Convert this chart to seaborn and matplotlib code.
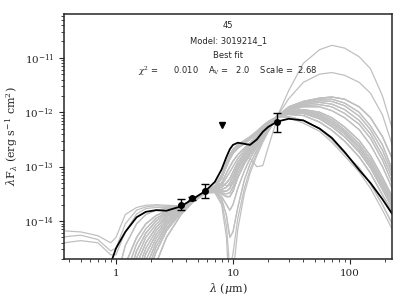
import pandas as pd
import seaborn as sns
import matplotlib
matplotlib.use('Agg')
import matplotlib.pyplot as plt

sns.set_style('ticks')
plt.rcParams['font.family'] = ['DejaVu Serif']
plt.rcParams['mathtext.fontset'] = 'dejavuserif'

wav = [0.36, 0.5, 0.7, 0.9, 1.0, 1.2, 1.5, 1.8, 2.2, 2.7, 3.6, 4.5, 5.8,
       7.0, 8.0, 8.8, 9.4, 10.0, 11.0, 12.5, 14.0, 16.0, 18.0, 20.0, 24.0,
       30.0, 40.0, 55.0, 70.0, 90.0, 120.0, 150.0, 190.0, 230.0]

# best fit model, log10(lambda F_lambda)
best_logf = [-16, -16, -16, -14.78, -14.5, -14.2, -13.93, -13.83, -13.8, -13.81, -13.73, -13.6, -13.45,
             -13.28, -13.05, -12.82, -12.68, -12.6, -12.56, -12.58, -12.6, -12.5, -12.36, -12.27, -12.17,
             -12.12, -12.15, -12.3, -12.47, -12.73, -13.06, -13.3, -13.6, -13.87]

# other good fits: short (0.36-5.8), mid (7-24) and long (30-230) pieces
grey_short = [
    [-14.18, -14.2, -14.27, -14.4, -14.3, -13.88, -13.75, -13.71, -13.7, -13.71, -13.72, -13.6, -13.44],
    [-14.29, -14.26, -14.34, -14.55, -14.5, -14.05, -13.8, -13.74, -13.72, -13.73, -13.73, -13.6, -13.45],
    [-14.4, -14.36, -14.4, -14.62, -14.62, -14.2, -13.87, -13.77, -13.75, -13.75, -13.74, -13.61, -13.45],
    [-16, -16, -16, -16, -15.1, -14.45, -14.05, -13.88, -13.8, -13.77, -13.74, -13.61, -13.45],
    [-16, -16, -16, -16, -15.6, -14.8, -14.3, -14.05, -13.9, -13.81, -13.75, -13.62, -13.46],
    [-16, -16, -16, -16, -16, -15.2, -14.55, -14.22, -14.0, -13.86, -13.76, -13.62, -13.46],
    [-16, -16, -16, -16, -16, -15.6, -14.8, -14.4, -14.12, -13.92, -13.77, -13.63, -13.47],
    [-16, -16, -16, -16, -16, -16, -15.1, -14.6, -14.25, -14.0, -13.79, -13.63, -13.47],
    [-16, -16, -16, -16, -16, -16, -15.4, -14.85, -14.4, -14.08, -13.81, -13.64, -13.48],
    [-16, -16, -16, -16, -16, -16, -15.8, -15.1, -14.57, -14.18, -13.84, -13.65, -13.48],
    [-16, -16, -16, -16, -16, -16, -16, -15.4, -14.78, -14.3, -13.88, -13.66, -13.49],
    [-16, -16, -16, -16, -15.8, -15.0, -14.42, -14.14, -13.95, -13.84, -13.75, -13.62, -13.46],
    [-16, -16, -16, -16, -16, -15.4, -14.68, -14.3, -14.06, -13.89, -13.77, -13.63, -13.47],
    [-16, -16, -16, -16, -16, -16, -14.95, -14.5, -14.18, -13.96, -13.78, -13.63, -13.47],
    [-16, -16, -16, -16, -16, -16, -15.25, -14.72, -14.32, -14.04, -13.8, -13.64, -13.48],
    [-16, -16, -16, -16, -16, -16, -15.6, -14.98, -14.48, -14.13, -13.83, -13.65, -13.48],
]
grey_mid = [
    [-13.35, -13.15, -12.92, -12.78, -12.68, -12.6, -12.52, -12.45, -12.35, -12.25, -12.17, -12.08],
    [-13.38, -13.22, -13.0, -12.86, -12.76, -12.66, -12.58, -12.5, -12.4, -12.3, -12.2, -12.08],
    [-13.4, -13.3, -13.12, -13.0, -12.9, -12.78, -12.66, -12.56, -12.44, -12.33, -12.22, -12.07],
    [-13.42, -13.38, -13.3, -13.22, -13.1, -12.92, -12.75, -12.62, -12.48, -12.35, -12.24, -12.07],
    [-13.43, -13.45, -13.45, -13.4, -13.28, -13.05, -12.85, -12.7, -12.54, -12.4, -12.27, -12.07],
    [-13.45, -13.5, -13.55, -13.55, -13.45, -13.2, -12.95, -12.78, -12.6, -12.44, -12.3, -12.07],
    [-13.45, -13.6, -13.9, -14.3, -14.2, -13.75, -13.25, -12.95, -12.7, -12.5, -12.33, -12.07],
    [-13.47, -13.65, -14.1, -14.9, -14.6, -13.95, -13.4, -13.05, -12.76, -12.53, -12.35, -12.07],
    [-13.48, -13.7, -14.3, -15.5, -15.0, -14.15, -13.5, -13.12, -12.8, -12.55, -12.36, -12.07],
    [-13.36, -13.3, -13.35, -13.35, -13.25, -13.0, -12.82, -12.85, -13.0, -12.98, -12.65, -12.1],
    [-13.44, -13.42, -13.38, -13.3, -13.18, -12.98, -12.8, -12.66, -12.5, -12.37, -12.25, -12.07],
    [-13.37, -13.18, -12.96, -12.82, -12.72, -12.63, -12.55, -12.48, -12.38, -12.28, -12.19, -12.08],
    [-13.41, -13.34, -13.2, -13.1, -13.0, -12.85, -12.7, -12.59, -12.46, -12.34, -12.23, -12.07],
    [-13.44, -13.48, -13.5, -13.48, -13.37, -13.12, -12.9, -12.74, -12.57, -12.42, -12.28, -12.07],
    [-13.46, -13.55, -13.7, -13.8, -13.7, -13.4, -13.08, -12.85, -12.64, -12.47, -12.32, -12.07],
]
grey_long = [
    [-11.6, -11.1, -10.85, -10.77, -10.82, -10.98, -11.2, -11.7, -12.3],
    [-11.75, -11.45, -11.3, -11.27, -11.32, -11.45, -11.65, -12.05, -12.6],
    [-11.9, -11.8, -11.74, -11.72, -11.76, -11.9, -12.1, -12.45, -12.85],
    [-11.92, -11.82, -11.76, -11.76, -11.83, -12.0, -12.25, -12.6, -13.05],
    [-11.95, -11.86, -11.82, -11.85, -11.95, -12.15, -12.4, -12.8, -13.2],
    [-11.97, -11.9, -11.9, -11.97, -12.1, -12.32, -12.6, -13.0, -13.4],
    [-11.98, -11.95, -12.0, -12.1, -12.27, -12.52, -12.8, -13.2, -13.55],
    [-12.0, -11.98, -12.06, -12.18, -12.36, -12.63, -12.92, -13.32, -13.65],
    [-12.02, -12.02, -12.12, -12.26, -12.45, -12.73, -13.02, -13.42, -13.75],
    [-12.04, -12.06, -12.18, -12.33, -12.53, -12.82, -13.12, -13.52, -13.82],
    [-12.1, -12.2, -12.35, -12.55, -12.8, -13.1, -13.4, -13.8, -14.15],
    [-12.08, -12.15, -12.3, -12.5, -12.75, -13.02, -13.32, -13.7, -14.05],
    [-11.96, -11.88, -11.86, -11.9, -12.02, -12.22, -12.48, -12.88, -13.3],
    [-11.99, -11.96, -12.03, -12.14, -12.32, -12.58, -12.86, -13.26, -13.6],
    [-12.01, -12.0, -12.09, -12.22, -12.4, -12.68, -12.97, -13.37, -13.7],
    [-11.93, -11.84, -11.79, -11.8, -11.88, -12.07, -12.32, -12.7, -13.12],
]
# which pieces make up each grey model
short_idx = [0, 1, 2, 3, 4, 5, 6, 7, 8, 9, 10, 3, 5, 7, 4, 6, 8, 10, 9, 5, 7, 4, 8, 6, 9, 10,
             11, 12, 13, 14, 15, 11, 12, 13, 14, 15]
mid_idx = [0, 1, 3, 2, 4, 5, 1, 10, 6, 7, 8, 9, 10, 3, 4, 2, 5, 0, 1, 0, 4, 5, 3, 6, 10, 2,
           11, 12, 13, 14, 11, 13, 14, 12, 3, 5]
long_idx = [6, 7, 8, 0, 1, 2, 3, 4, 5, 9, 10, 11, 7, 8, 9, 6, 2, 4, 5, 8, 7, 9, 3, 11, 6, 2,
            12, 13, 14, 15, 13, 14, 12, 15, 7, 8]

# photometry
phot_wav = [3.6, 4.5, 5.8, 24.0]
phot_flux = [1.95e-14, 2.6e-14, 3.6e-14, 6.6e-13]
phot_lo = [1.6e-14, 2.45e-14, 2.7e-14, 4.4e-13]
phot_hi = [2.5e-14, 2.75e-14, 4.8e-14, 9.7e-13]
ulim_wav = [8.0]
ulim_flux = [5.8e-13]

rows = []
for m, (si, mi, li) in enumerate(zip(short_idx, mid_idx, long_idx)):
    logf = grey_short[si] + grey_mid[mi] + grey_long[li]
    for w, v in zip(wav, logf):
        rows.append({'model': m, 'wav': w, 'flux': 10 ** v})
grey_df = pd.DataFrame(rows)
best_df = pd.DataFrame({'wav': wav, 'flux': [10 ** v for v in best_logf]})

fig = plt.figure(figsize=(4.06, 3.03), dpi=100)
ax = fig.add_axes([0.158, 0.145, 0.808, 0.81])
ax.set_xscale('log')
ax.set_yscale('log')

sns.lineplot(data=grey_df, x='wav', y='flux', units='model', estimator=None,
             color='#c0c0c0', lw=0.9, ax=ax, legend=False)
sns.lineplot(data=best_df, x='wav', y='flux', color='black', lw=1.3, ax=ax)

yerr = [[f - lo for f, lo in zip(phot_flux, phot_lo)],
        [hi - f for f, hi in zip(phot_flux, phot_hi)]]
ax.errorbar(phot_wav, phot_flux, yerr=yerr, fmt='o', color='black', ms=4,
            capsize=3, elinewidth=1, capthick=1, zorder=5)
ax.plot(ulim_wav, ulim_flux, 'v', color='black', ms=4.5, zorder=5)

ax.set_xlim(0.36, 230)
ax.set_ylim(2e-15, 6.5e-11)
ax.set_xticks([1, 10, 100])
ax.set_xticklabels(['1', '10', '100'])
ax.set_yticks([1e-14, 1e-13, 1e-12, 1e-11])
ax.tick_params(which='both', direction='out', top=False, right=False, labelsize=7.5)
ax.tick_params(which='major', length=3.5, width=0.8)
ax.tick_params(which='minor', length=2, width=0.6)
for s in ax.spines.values():
    s.set_linewidth(1.1)

ax.set_xlabel(r'$\lambda$ ($\mu$m)', fontsize=8, labelpad=2)
ax.set_ylabel(r'$\lambda$F$_\lambda$ (erg s$^{-1}$ cm$^2$)', fontsize=8, labelpad=3)

txt = dict(transform=ax.transAxes, ha='center', va='center', fontsize=6, family='DejaVu Sans')
ax.text(0.5, 0.953, '45', **txt)
ax.text(0.5, 0.892, 'Model: 3019214_1', **txt)
ax.text(0.5, 0.831, 'Best fit', **txt)
ax.text(0.5, 0.77, r'$\chi^2$ =      0.010    A$_{\rm V}$ =   2.0    Scale =  2.68', **txt)

fig.savefig('out.png', dpi=100)
